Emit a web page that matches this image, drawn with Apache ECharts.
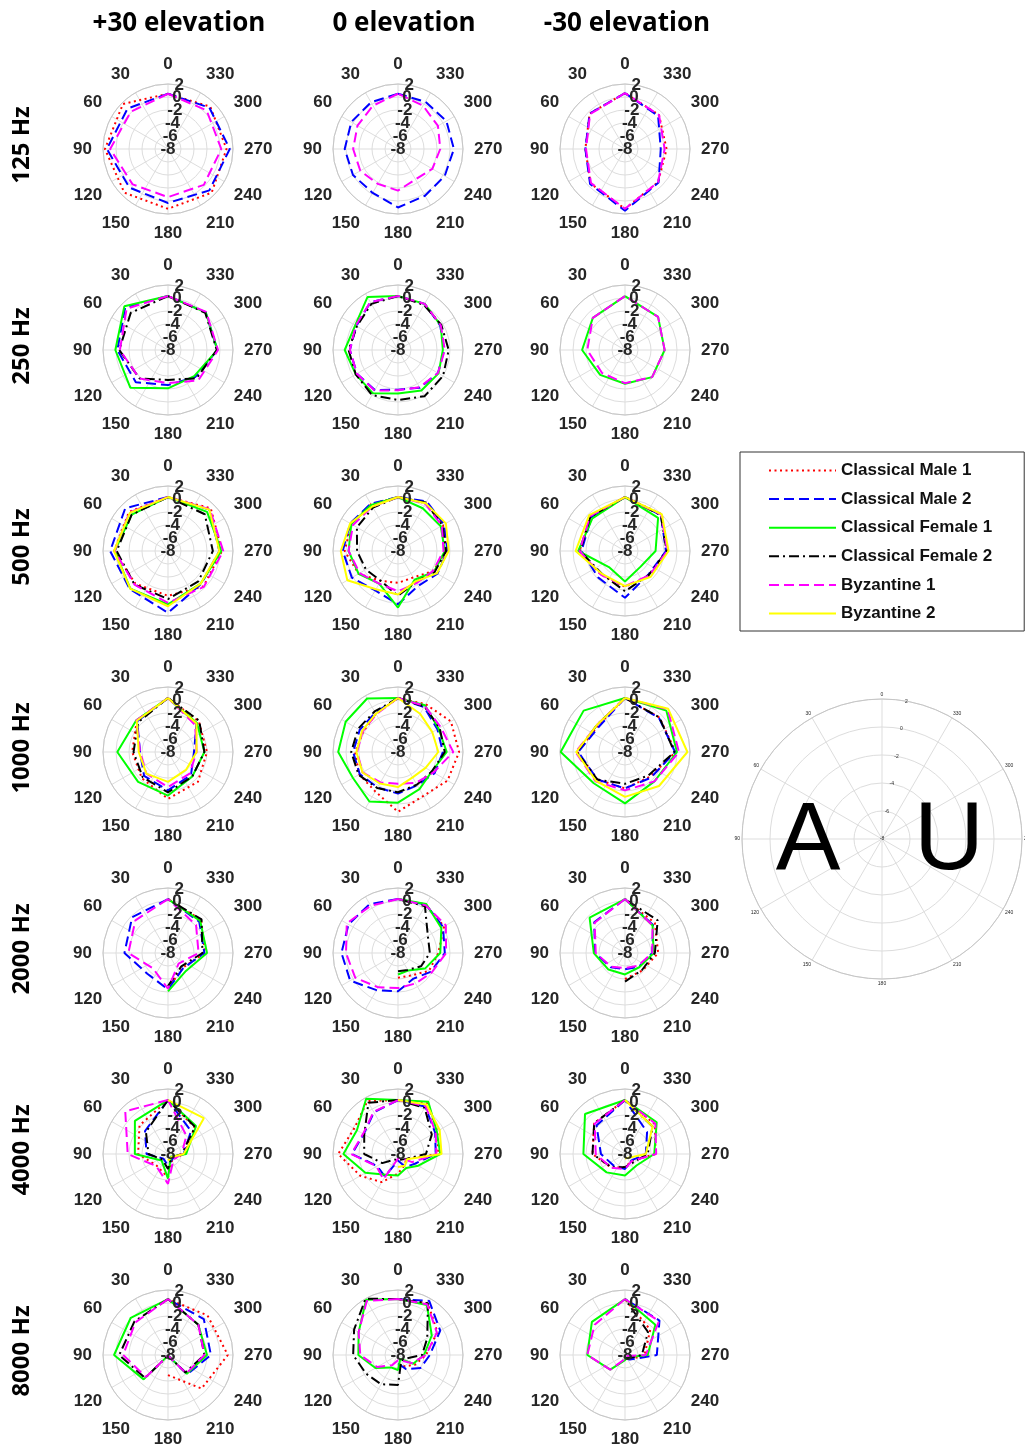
<!DOCTYPE html>
<html><head><meta charset="utf-8">
<script src="https://cdn.jsdelivr.net/npm/echarts@6/dist/echarts.min.js"></script>
<style>html,body{margin:0;padding:0;background:#fff}#chart{width:1025px;height:1447px}</style>
</head><body><div id="chart"></div>
<script>
const n = null;
const angles30 = [0,30,60,90,120,150,180,210,240,270,300,330];
const angles45 = [0,45,90,135,180,225,270,315];
const frequencies = ['125 Hz','250 Hz','500 Hz','1000 Hz','2000 Hz','4000 Hz','8000 Hz'];
const elevations = ['+30 elevation','0 elevation','-30 elevation'];
const seriesNames = ['Classical Male 1','Classical Male 2','Classical Female 1','Classical Female 2','Byzantine 1','Byzantine 2'];
const seriesKeys = ['CM1','CM2','CF1','CF2','Byz1','Byz2'];
const radiusTicks = {min:-8, max:2, step:2};
const radiusLabelsA = [-8, -4, 0];
const radiusLabelsB = [-6, -2, 2];
const angleTicks = {min:0, max:360, step:30};

// 125 Hz
const p125_up = {angles: angles45,
  CM1: [0.5, 1.8, 1.7, 1.5, 1.2, 1.5, 1.0, 1.2],
  CM2: [0.5, 0.8, 1.4, 0.4, 0.3, 1.0, 1.5, 1.0],
  Byz1:[0.5, 0.1, 0.9, -0.3, -0.6, -0.2, 0.2, 0.4]};
const p125_0 = {angles: angles30,
  CM2: [0.5, 0.3, 0.3, 0.2, 0.0, -0.2, 1.0, 0.3, 0.3, 0.6, 0.6, 0.4],
  Byz1:[0.5, -0.3, -0.8, -1.1, -1.3, -1.8, -1.6, -2.6, -1.9, -1.5, -0.9, -0.3]};
const p125_dn = {angles: angles45,
  CM1: [0.6, -0.3, -1.9, -0.5, 1.2, -0.8, -1.6, -0.6],
  CM2: [0.6, -0.3, -1.9, -0.4, 1.5, -0.7, -2.5, -0.8],
  Byz1:[0.6, -0.4, -2.0, -0.6, 1.2, -0.8, -1.9, -0.6]};
// 250 Hz
const p250_up = {angles: angles45,
  CM2: [0.3, 1.3, -0.2, -1.0, -2.6, -2.1, -0.4, 0.2],
  CF1: [0.3, 1.5, 0.1, 0.2, -2.1, -2.3, -0.4, 0.2],
  CF2: [0.3, 0.1, -0.5, -1.8, -3.4, -1.8, -0.5, 0.1],
  Byz1:[0.3, 1.0, -0.6, -1.8, -2.9, -1.4, -0.3, 0.3]};
const p250_0 = {angles: angles30,
  CM2: [0.3, 0.5, -0.6, -0.6, -0.7, -0.9, -1.9, -1.3, -0.9, -0.9, -0.5, 0.2],
  CF1: [0.3, 1.4, -0.4, 0.2, -0.5, -0.3, -1.3, -0.8, -0.8, -1.1, -0.4, 0.2],
  CF2: [0.3, 0.2, -0.7, -0.4, -0.5, 0.0, -0.3, 0.2, 0.0, -0.2, -0.3, 0.0],
  Byz1:[0.3, 0.5, -0.5, -0.6, -0.7, -0.8, -1.8, -1.4, -0.9, -0.8, -0.4, 0.2]};
const p250_dn = {angles: angles45,
  CF1: [0.3, -1.0, -1.4, -2.6, -2.8, -2.1, -1.9, -0.8],
  Byz1:[0.3, -1.0, -2.2, -3.0, -2.9, -2.1, -1.9, -0.8]};
// 500 Hz
const p500_up = {angles: angles45,
  CM1: [0.3, 0.5, 0.3, -0.9, -1.1, -0.3, 0.3, 1.3],
  CM2: [0.3, 1.3, 0.9, 0.3, 1.5, -0.8, -0.1, 1.0],
  CF1: [0.3, -0.1, 0.2, 0.2, 0.2, -0.9, 0.2, 0.5],
  CF2: [0.3, -0.1, -0.1, -0.7, -0.6, -1.4, -1.1, 0.0],
  Byz1:[0.3, 0.4, 0.2, -0.7, 0.0, -0.2, 0.5, 1.1],
  Byz2:[0.3, 0.3, 0.3, 0.2, 0.5, -0.9, -0.1, 1.0]};
const p500_0 = {angles: angles30,
  CM1: [0.3, 0.3, 0.3, 0.2, -1.0, -2.7, -3.1, -3.3, -1.8, -0.5, 0.0, 0.5],
  CM2: [0.3, 0.4, 0.5, 0.5, 0.2, -1.0, 0.2, -1.8, -1.0, -0.4, 0.2, 0.8],
  CF1: [0.3, 0.2, 0.3, -0.4, -1.0, -2.2, 0.7, -2.9, -1.6, -0.8, -0.4, -0.4],
  CF2: [0.3, -0.3, -0.7, -1.7, -2.3, -2.7, -1.1, -2.5, -1.5, -0.6, -0.1, 0.6],
  Byz1:[0.3, -0.1, 0.0, -0.4, -1.2, -2.2, -1.8, -2.3, -1.8, -1.0, -0.2, 0.4],
  Byz2:[0.3, -0.1, 0.5, 0.8, 1.0, -1.2, -1.3, -2.6, -1.1, -0.2, 0.5, 0.5]};
const p500_dn = {angles: angles45,
  CM1: [0.3, -0.5, -1.0, -2.8, -2.5, -2.6, -1.5, 0.0],
  CM2: [0.3, -0.7, -1.3, -2.2, -0.8, -2.9, -1.7, -0.2],
  CF1: [0.3, -0.9, -0.8, -4.5, -3.3, -4.6, -3.3, -0.8],
  CF2: [0.3, -0.5, -1.1, -3.0, -1.8, -2.8, -1.6, -0.2],
  Byz1:[0.3, -0.4, -1.0, -2.8, -2.6, -2.7, -1.5, -0.1],
  Byz2:[0.3, -0.2, -0.4, -3.0, -2.6, -2.4, -1.3, 0.0]};
// 1000 Hz
const p1000_up = {angles: angles45,
  CM1: [0.3, -1.2, -2.5, -2.3, -0.8, -1.5, -2.0, -1.3],
  CM2: [0.3, -1.3, -3.7, -2.8, -2.1, -3.0, -4.0, -1.8],
  CF1: [0.3, -1.1, -0.2, -1.5, -1.3, -2.7, -2.4, -1.7],
  CF2: [0.3, -1.5, -2.7, -2.5, -1.8, -2.7, -2.4, -1.2],
  Byz1:[0.3, -1.1, -3.7, -3.3, -2.6, -3.3, -3.6, -2.1],
  Byz2:[0.3, -1.2, -3.5, -3.3, -3.4, -4.1, -3.6, -1.8]};
const p1000_0 = {angles: angles30,
  CM1: [0.3, -1.2, -1.8, -1.4, -1.1, -1.0, 1.2, -0.2, 0.8, 1.4, 1.4, 0.5],
  CM2: [0.3, -1.0, -1.2, -1.1, -1.2, -1.7, -1.6, -2.1, -1.5, -1.1, -1.0, 0.0],
  CF1: [0.3, 1.5, 1.3, 1.2, 0.0, 0.8, -0.2, -1.4, -2.0, -0.5, -0.8, 0.3],
  CF2: [0.3, -0.8, -0.9, -0.8, -1.0, -1.6, -1.8, -2.2, -2.0, -0.8, -0.6, 0.1],
  Byz1:[0.3, -1.3, -1.7, -1.7, -1.7, -2.6, -3.1, -2.5, -1.7, 0.5, -0.4, 0.2],
  Byz2:[0.3, -1.2, -1.6, -1.6, -1.7, -2.4, -2.6, -3.5, -3.1, -1.8, -1.9, -1.2]};
const p1000_dn = {angles: angles45,
  CM1: [0.3, -2.2, -0.7, -2.0, -2.4, -2.6, -0.2, -0.5],
  CM2: [0.3, -2.4, -0.8, -2.0, -2.4, -2.4, -0.3, -0.6],
  CF1: [0.3, 1.0, 1.9, -1.2, -0.1, -1.6, 0.0, 1.0],
  CF2: [0.3, -2.0, -0.6, -2.0, -3.1, -2.9, -0.4, -0.5],
  Byz1:[0.3, -2.0, -0.4, -1.6, -2.1, -1.6, 0.3, 1.3],
  Byz2:[0.3, -2.0, -0.5, -1.7, -1.1, -0.6, 1.6, 1.4]};
// 2000 Hz
const p2000_up = {angles: angles45,
  CM1: [0.3, n, n, n, -2.5, -4.8, -2.3, -0.8],
  CM2: [0.3, -0.2, -1.3, -3.5, -2.4, -4.7, -2.4, -1.2],
  CF1: [0.3, n, n, n, -2.1, -4.1, -2.0, -1.0],
  CF2: [0.3, n, n, n, -2.9, -5.1, -2.7, -0.7],
  Byz1:[0.3, -0.9, -1.9, -4.7, -2.5, -5.7, -3.3, -1.9]};
const p2000_0 = {angles: angles30,
  CM1: [0.3, n, n, n, n, n, -4.2, -4.0, -2.5, -1.8, 0.2, 0.5],
  CM2: [0.3, 0.7, 0.8, 0.7, 0.5, -1.4, -2.1, -3.4, -2.2, -0.8, 0.0, 0.6],
  CF1: [0.3, n, n, n, n, n, -4.7, -4.9, -3.2, -1.5, -0.3, 0.7],
  CF2: [0.3, n, n, n, n, n, -5.2, -5.0, -3.9, -3.1, -2.7, 0.3],
  Byz1:[0.3, 0.4, 1.1, 0.0, -0.4, -1.9, -2.6, -2.6, -2.0, -0.6, 0.5, 0.5]};
const p2000_dn = {angles: angles45,
  CM1: [0.3, n, n, n, -4.0, -4.2, -2.9, -1.5],
  CM2: [0.3, -1.3, -3.4, -4.9, -5.5, -5.0, -3.8, -1.9],
  CF1: [0.3, -0.3, -3.2, -4.4, -4.7, -4.9, -3.6, -2.0],
  CF2: [0.3, n, n, n, -3.6, -4.3, -3.4, -0.9],
  Byz1:[0.3, -1.4, -3.5, -5.0, -5.7, -5.2, -3.8, -2.0]};
// 4000 Hz
const p4000_up = {angles: angles45,
  CM1: [0.3, -1.8, -3.4, -5.5, -4.4, -7.0, -5.5, -2.2],
  CM2: [0.3, -3.0, -4.7, -7.0, -6.2, -7.0, -5.6, -3.0],
  CF1: [0.3, -0.8, -2.9, -6.6, -4.2, -7.4, -5.2, -1.9],
  CF2: [0.3, -3.2, -5.0, -6.8, -5.7, -7.2, -5.9, -2.1],
  Byz1:[0.3, 1.3, -1.8, -5.4, -3.4, -6.8, -5.9, -4.0],
  Byz2:[0.3, n, n, n, -7.0, -7.3, -5.6, -0.2]};
const p4000_0 = {angles: angles30,
  CM1: [0.3, 1.4, -0.2, 1.2, -1.3, -3.0, -5.0, -6.0, -6.5, -1.8, -1.0, 1.0],
  CM2: [0.3, -0.6, -1.9, -0.9, -4.3, -4.0, -7.0, -5.7, -5.0, -2.2, -1.4, 0.4],
  CF1: [0.3, 1.8, -0.7, 0.4, -2.2, -4.3, -4.7, -5.5, -4.4, -1.5, -1.1, 1.3],
  CF2: [0.3, 1.1, -2.0, -2.8, -5.2, -7.0, -7.0, -7.0, -6.5, -3.7, -2.0, 0.2],
  Byz1:[0.3, -0.5, -1.8, -0.8, -4.2, -3.5, -7.3, -7.3, -5.5, -2.1, -1.3, 0.5],
  Byz2:[0.3, n, n, n, n, n, -6.0, -5.9, -6.4, -1.3, -0.6, 0.8]};
const p4000_dn = {angles: angles45,
  CM1: [0.3, -1.3, -3.0, -5.0, -6.0, -6.5, -3.3, -1.5],
  CM2: [0.3, -1.8, -4.3, -5.5, -5.7, -6.6, -4.8, -3.2],
  CF1: [0.3, 0.7, -1.6, -4.0, -4.7, -5.5, -3.5, -1.1],
  CF2: [0.3, -1.3, -3.0, -5.1, -6.0, -6.2, -4.5, -2.0],
  Byz1:[0.3, -1.4, -3.5, -5.0, -5.7, -6.5, -3.2, -1.4],
  Byz2:[0.3, n, n, n, -7.3, -7.2, -4.8, -2.0]};
// 8000 Hz
const p8000_up = {angles: angles45,
  CM1: [0.6, n, n, n, -4.9, -0.7, 1.2, 0.6],
  CM2: [0.6, n, n, n, -7.9, -3.8, -1.4, -0.2],
  CF1: [0.6, 0.1, 0.3, -2.7, -7.9, -3.9, -2.0, -1.4],
  CF2: [0.6, -0.7, -0.5, -3.0, -7.9, -4.2, -2.4, -1.4],
  Byz1:[0.6, -0.9, -1.1, -3.2, -7.9, -4.0, -2.4, -1.4]};
const p8000_0 = {angles: angles30,
  CM1: [0.6, n, n, n, n, n, -6.5, -6.0, -5.0, -3.7, -1.0, 1.2],
  CM2: [0.6, n, n, n, n, n, -6.7, -5.5, -4.0, -3.1, -0.5, 1.6],
  CF1: [0.6, 1.8, -1.0, -1.9, -4.0, -5.8, -5.7, -7.3, -5.3, -4.0, -2.0, 0.9],
  CF2: [0.6, 2.0, -0.2, -1.1, -2.3, -2.8, -3.4, -7.0, -6.8, -4.3, -2.8, 1.2],
  Byz1:[0.6, 1.6, -1.0, -2.2, -4.3, -6.2, -7.2, -7.0, -5.5, -3.7, -1.1, 1.0]};
const p8000_dn = {angles: angles45,
  CM1: [0.6, n, n, n, -7.5, -7.0, -5.0, -2.5],
  CM2: [0.6, n, n, n, -7.5, -7.0, -3.1, -0.5],
  CF1: [0.6, -0.8, -2.2, -4.8, -7.2, -7.5, -4.5, -1.4],
  CF2: [0.6, n, n, n, -7.5, -7.3, -5.4, -3.0],
  Byz1:[0.6, -1.4, -2.2, -4.8, -7.4, -7.8, -4.8, -0.6]};

const plotRows = [
  [p125_up, p125_0, p125_dn],
  [p250_up, p250_0, p250_dn],
  [p500_up, p500_0, p500_dn],
  [p1000_up, p1000_0, p1000_dn],
  [p2000_up, p2000_0, p2000_dn],
  [p4000_up, p4000_0, p4000_dn],
  [p8000_up, p8000_0, p8000_dn]
];

// ---- styles & layout ----
const styles = {
  CM1: {color:'#ff0000', type:[2,3.5]},
  CM2: {color:'#0000ff', type:[10,5]},
  CF1: {color:'#00ff00', type:'solid'},
  CF2: {color:'#000000', type:[10,4,2,4]},
  Byz1:{color:'#ff00ff', type:[10,5]},
  Byz2:{color:'#ffff00', type:'solid'}
};
const colX = [168, 398, 625];
const rowY0 = 149, rowStep = 201, R = 65;
const tickFont = 'Liberation Sans, Arial, sans-serif';
const headFont = 'Open Sans, Noto Sans, sans-serif';

const polar = [], angleAxis = [], radiusAxis = [], series = [], graphic = [];

function addLabelOverlay(cx, cy, r, small, shown) {
  const li = polar.length;
  polar.push({center:[cx, cy], radius: r});
  angleAxis.push({polarIndex: li, type:'value', min:0, max:360, startAngle:80, clockwise:false, show:false});
  radiusAxis.push({
    polarIndex: li, type:'value', min: radiusTicks.min, max: radiusTicks.max, interval: radiusTicks.step, z: 10,
    axisLine:{show:false}, axisTick:{show:false}, splitLine:{show:false},
    axisLabel:{show:true, showMinLabel:true, showMaxLabel:true, hideOverlap:false,
      align:'center', verticalAlign:'middle', margin:0,
      formatter: v => (shown.indexOf(v) >= 0 ? String(v) : ''),
      fontSize: small ? 17 : 5, fontWeight: small ? 'bold' : 'normal', color:'#262626', fontFamily: tickFont}
  });
}

function addPolar(cx, cy, r, small) {
  const gi = polar.length;
  polar.push({center:[cx, cy], radius: r});
  angleAxis.push({
    polarIndex: gi, type:'value', min: angleTicks.min, max: angleTicks.max, interval: angleTicks.step,
    startAngle: 90, clockwise: false, z: 1,
    axisLine:{show:true, lineStyle:{color:'#c6c6c6', width:1}},
    axisTick:{show:false},
    axisLabel:{show:true, margin: small ? 11 : 2, fontSize: small ? 17 : 5, fontWeight: small ? 'bold' : 'normal',
      color:'#262626', fontFamily: tickFont, formatter: v => (v === 360 ? '' : String(v))},
    splitLine:{show:true, lineStyle:{color:'#dddddd', width:1}}
  });
  radiusAxis.push({
    polarIndex: gi, type:'value', min: radiusTicks.min, max: radiusTicks.max, interval: radiusTicks.step, z: 1,
    axisLine:{show:false}, axisTick:{show:false}, axisLabel:{show:false},
    splitLine:{show:true, lineStyle:{color:'#dddddd', width:1}}
  });
  // two overlay polars carry the radial tick labels along the 80 deg direction
  addLabelOverlay(cx, cy, r, small, radiusLabelsA);
  addLabelOverlay(cx, cy, r, small, radiusLabelsB);
  return gi;
}

plotRows.forEach((row, ri) => {
  row.forEach((plot, ci) => {
    const pi = addPolar(colX[ci], rowY0 + ri * rowStep, R, true);
    seriesKeys.forEach((key, ki) => {
      const vals = plot[key];
      if (!vals) return;
      const data = plot.angles.map((a, i) => [vals[i] == null ? '-' : vals[i], a]);
      data.push([vals[0] == null ? '-' : vals[0], 360]);
      series.push({
        type:'line', coordinateSystem:'polar', polarIndex: pi, name: seriesNames[ki],
        data, symbol:'none', showSymbol:false, silent:true, animation:false, connectNulls:false, z: 2 + ki * 0.01,
        lineStyle:{color: styles[key].color, width:2, type: styles[key].type, cap:'butt'},
        itemStyle:{color: styles[key].color}
      });
    });
  });
});

// big empty reference polar
addPolar(882, 839, 140, false);

// headers
const headerX = [179, 404, 627];
elevations.forEach((t, i) => graphic.push({type:'text', x: headerX[i], y: 24, z: 20,
  style:{text:t, font:'bold 26px ' + headFont, fill:'#000', align:'center', verticalAlign:'middle', textAlign:'center', textVerticalAlign:'middle'}}));
frequencies.forEach((t, i) => graphic.push({type:'text', x: 22, y: rowY0 + i * rowStep - 4, rotation: Math.PI / 2, z: 20,
  style:{text:t, font:'bold 24px ' + headFont, fill:'#000', align:'center', verticalAlign:'middle', textAlign:'center', textVerticalAlign:'middle'}}));
graphic.push({type:'text', x: 808, y: 842, z: 20, style:{text:'A', font:'97px Liberation Sans, Arial, sans-serif', fill:'#000', align:'center', verticalAlign:'middle', textAlign:'center', textVerticalAlign:'middle'}});
graphic.push({type:'text', x: 949, y: 842, z: 20, style:{text:'U', font:'97px Liberation Sans, Arial, sans-serif', fill:'#000', align:'center', verticalAlign:'middle', textAlign:'center', textVerticalAlign:'middle'}});

const chart = echarts.init(document.getElementById('chart'), null, {renderer:'canvas'});
chart.setOption({
  animation:false,
  backgroundColor:'#ffffff',
  legend:{
    data: seriesNames, orient:'vertical', left:740, top:452,
    itemWidth:67, itemHeight:14, itemGap:11.6, padding:[10, 32, 9, 28],
    borderColor:'#333', borderWidth:1, selectedMode:false,
    itemStyle:{opacity:0, borderWidth:0},
    textStyle:{fontSize:17, fontWeight:'bold', fontFamily: tickFont, color:'#111'}
  },
  polar, angleAxis, radiusAxis, series, graphic
});
</script></body></html>
